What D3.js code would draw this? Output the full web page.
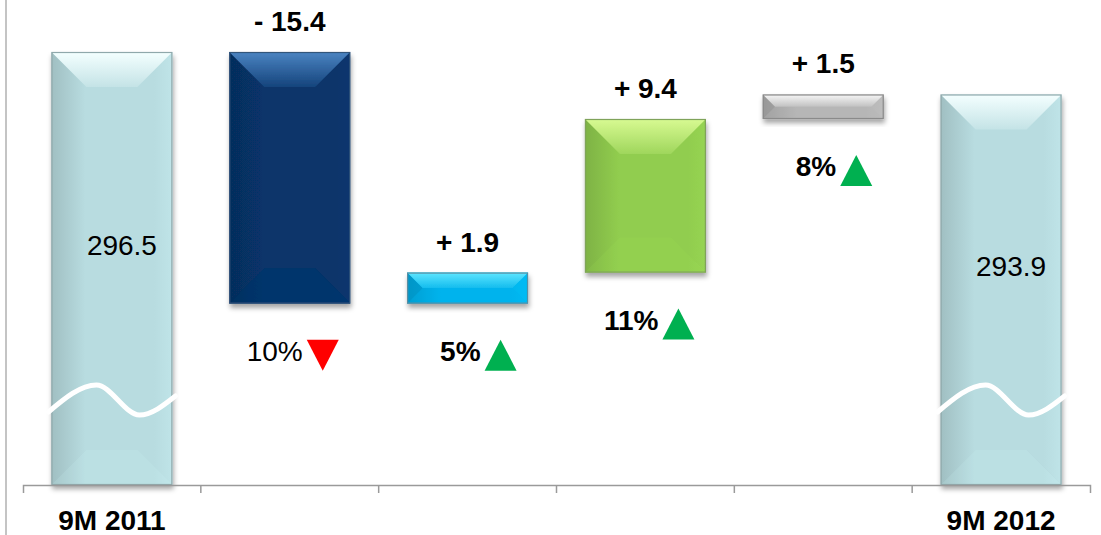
<!DOCTYPE html>
<html>
<head>
<meta charset="utf-8">
<script src="https://cdnjs.cloudflare.com/ajax/libs/d3/7.8.5/d3.min.js"></script>
<style>
  html, body { margin: 0; padding: 0; background: #fff; }
  svg { display: block; font-family: "Liberation Sans", Arial, sans-serif; }
</style>
</head>
<body>
<div id="chart"></div>
<script>
"use strict";

// data
var categories = ["9M 2011", "", "", "", "", "9M 2012"];
var values = [296.5, -15.4, 1.9, 9.4, 1.5, 293.9];
var isTotal = [true, false, false, false, false, true];
var changePct = [null, "10%", "5%", "11%", "8%", null];
var changeDir = [null, "down", "up", "up", "up", null];
var axisBase = 270; // broken axis starts here

// looks
var palette = [
	{ base: "#b8dce0", top: "#f4ffff", edge: "#8fa8ab" },
	{ base: "#07346a", top: "#4b84c2", edge: "#31547a" },
	{ base: "#00b1ea", top: "#5ee6ff", edge: "#5a8fa3" },
	{ base: "#91cd4f", top: "#d8fa92", edge: "#7fa35a" },
	{ base: "#b3b3b3", top: "#f7f7f7", edge: "#8a8a8a" },
	{ base: "#b8dce0", top: "#f4ffff", edge: "#8fa8ab" }
];

var W = 1101, H = 535;
var axisY = 485;

var svg = d3.select("#chart").append("svg")
	.attr("width", W)
	.attr("height", H);

var defs = svg.append("defs");
var shadow = defs.append("filter").attr("id", "shadow")
	.attr("x", "-20%").attr("y", "-20%").attr("width", "140%").attr("height", "150%");
shadow.append("feDropShadow")
	.attr("dx", 1).attr("dy", 4).attr("stdDeviation", 2.5)
	.attr("flood-color", "#000").attr("flood-opacity", 0.35);

// running totals for waterfall
var steps = [];
var running = 0;
values.forEach(function (v, i) {
	if (isTotal[i]) {
		steps.push({ i: i, lo: axisBase, hi: v, v: v });
		running = v;
	} else {
		var start = running;
		running = +(running + v).toFixed(2);
		steps.push({ i: i, lo: Math.min(start, running), hi: Math.max(start, running), v: v });
	}
});

var x = d3.scaleBand()
	.domain(d3.range(categories.length))
	.range([23, 1090])
	.paddingInner(0.32)
	.paddingOuter(0.16);

var y = d3.scaleLinear()
	.domain([axisBase, 296.5])
	.range([axisY, 52]);

// left frame line
svg.append("line")
	.attr("x1", 6).attr("x2", 6).attr("y1", 0).attr("y2", H)
	.attr("stroke", "#c4c4c4").attr("stroke-width", 2);

// gradients per bar
steps.forEach(function (d) {
	var c = palette[d.i];
	var g1 = defs.append("linearGradient").attr("id", "body" + d.i)
		.attr("x1", 0).attr("x2", 1).attr("y1", 0).attr("y2", 0);
	g1.append("stop").attr("offset", 0).attr("stop-color", d3.color(c.base).darker(0.4));
	g1.append("stop").attr("offset", 0.28).attr("stop-color", c.base);
	g1.append("stop").attr("offset", 0.85).attr("stop-color", c.base);
	g1.append("stop").attr("offset", 1).attr("stop-color", d3.color(c.base).brighter(0.1));
	var g2 = defs.append("linearGradient").attr("id", "top" + d.i)
		.attr("x1", 0).attr("x2", 0).attr("y1", 0).attr("y2", 1);
	g2.append("stop").attr("offset", 0).attr("stop-color", c.top);
	g2.append("stop").attr("offset", 1).attr("stop-color", d3.interpolateRgb(c.top, c.base)(0.8));
});

var bars = svg.selectAll("g.bar")
	.data(steps)
	.enter()
	.append("g")
	.attr("class", "bar");

bars.each(function (d) {
	var g = d3.select(this);
	var c = palette[d.i];
	var x0 = x(d.i), x1 = x(d.i) + x.bandwidth();
	var y0 = y(d.hi), y1 = y(d.lo);
	var h = y1 - y0;
	var b = Math.min(35, h / 2, x.bandwidth() / 2);
	var thin = h < 60;
	var pts = function (arr) { return arr.map(function (p) { return p.join(","); }).join(" "); };

	var shape = g.append("g").attr("filter", "url(#shadow)");
	shape.append("rect")
		.attr("x", x0).attr("y", y0)
		.attr("width", x1 - x0).attr("height", h)
		.attr("fill", "url(#body" + d.i + ")");
	// bevel faces; the side ones only show on flat bars
	if (thin) {
		shape.append("polygon")
			.attr("points", pts([[x0, y0], [x0 + b, y0 + b], [x0 + b, y1 - b], [x0, y1]]))
			.attr("fill", d3.color(c.base).darker(0.6)).attr("opacity", 0.3);
		shape.append("polygon")
			.attr("points", pts([[x1, y0], [x1 - b, y0 + b], [x1 - b, y1 - b], [x1, y1]]))
			.attr("fill", d3.color(c.base).brighter(0.4)).attr("opacity", 0.2);
	}
	shape.append("polygon")
		.attr("points", pts([[x0, y1], [x0 + b, y1 - b], [x1 - b, y1 - b], [x1, y1]]))
		.attr("fill", d3.color(c.base).brighter(0.3)).attr("opacity", 0.15);
	shape.append("polygon")
		.attr("points", pts([[x0, y0], [x1, y0], [x1 - b, y0 + b], [x0 + b, y0 + b]]))
		.attr("fill", "url(#top" + d.i + ")");
	shape.append("rect")
		.attr("x", x0 + 0.5).attr("y", y0 + 0.5)
		.attr("width", x1 - x0 - 1).attr("height", h - 1)
		.attr("fill", "none")
		.attr("stroke", c.edge).attr("stroke-width", 1.2);
});

// axis
var xAxis = d3.axisBottom(x).tickValues([]).tickSizeOuter(8);
var axisG = svg.append("g")
	.attr("transform", "translate(0," + axisY + ")")
	.call(xAxis);
axisG.select(".domain").attr("stroke", "#9a9a9a").attr("stroke-width", 1.5);
axisG.selectAll(".sep")
	.data(d3.range(1, categories.length))
	.enter().append("line")
	.attr("class", "sep")
	.attr("x1", function (i) { return x.range()[0] + i * x.step(); })
	.attr("x2", function (i) { return x.range()[0] + i * x.step(); })
	.attr("y1", 0).attr("y2", 8)
	.attr("stroke", "#9a9a9a").attr("stroke-width", 1.5);

// axis break waves on the total bars
var wave = d3.line().curve(d3.curveMonotoneX);
bars.filter(function (d) { return isTotal[d.i]; })
	.append("path")
	.attr("d", function (d) {
		var x0 = x(d.i);
		return wave([[x0 - 3, axisY - 73], [x0 + 45, axisY - 100], [x0 + 88, axisY - 70], [x0 + 124, axisY - 89]]);
	})
	.attr("fill", "none")
	.attr("stroke", "#fff")
	.attr("stroke-width", 5)
	.attr("stroke-linecap", "round");

// category labels
svg.selectAll("text.cat")
	.data(categories)
	.enter().append("text")
	.attr("class", "cat")
	.attr("x", function (d, i) { return x(i) + x.bandwidth() / 2; })
	.attr("y", 530)
	.attr("text-anchor", "middle")
	.attr("font-size", "28px")
	.attr("font-weight", "bold")
	.attr("fill", "#000")
	.text(function (d) { return d; });

// total labels inside bars
svg.selectAll("text.total")
	.data(steps.filter(function (d) { return isTotal[d.i]; }))
	.enter().append("text")
	.attr("class", "total")
	.attr("x", function (d) { return x(d.i) + x.bandwidth() / 2 + 10; })
	.attr("y", function (d) { return (y(d.hi) + y(d.lo)) / 2 - 14; })
	.attr("text-anchor", "middle")
	.attr("font-size", "28px")
	.attr("fill", "#000")
	.text(function (d) { return d.v.toFixed(1); });

// delta labels above bars
var deltas = steps.filter(function (d) { return !isTotal[d.i]; });
svg.selectAll("text.delta")
	.data(deltas)
	.enter().append("text")
	.attr("class", "delta")
	.attr("x", function (d) { return x(d.i) + x.bandwidth() / 2; })
	.attr("y", function (d) { return y(d.hi) - 21; })
	.attr("text-anchor", "middle")
	.attr("font-size", "28px")
	.attr("font-weight", "bold")
	.attr("fill", "#000")
	.text(function (d) { return (d.v < 0 ? "- " : "+ ") + Math.abs(d.v).toFixed(1); });

// percentage change with arrow
var pct = svg.selectAll("g.pct")
	.data(deltas)
	.enter().append("g")
	.attr("class", "pct")
	.attr("transform", function (d) {
		return "translate(" + (x(d.i) + x.bandwidth() / 2) + "," + (y(d.lo) + 57) + ")";
	});
pct.append("text")
	.attr("x", 13)
	.attr("text-anchor", "end")
	.attr("font-size", "28px")
	.attr("font-weight", function (d) { return changeDir[d.i] === "down" ? "normal" : "bold"; })
	.attr("fill", "#000")
	.text(function (d) { return changePct[d.i]; });
pct.append("path")
	.attr("d", function (d) {
		return changeDir[d.i] === "up"
			? "M17,10 L49,10 L33,-21 Z"
			: "M17,-21 L49,-21 L33,10 Z";
	})
	.attr("fill", function (d) { return changeDir[d.i] === "up" ? "#00b050" : "#ff0000"; });
</script>
</body>
</html>
